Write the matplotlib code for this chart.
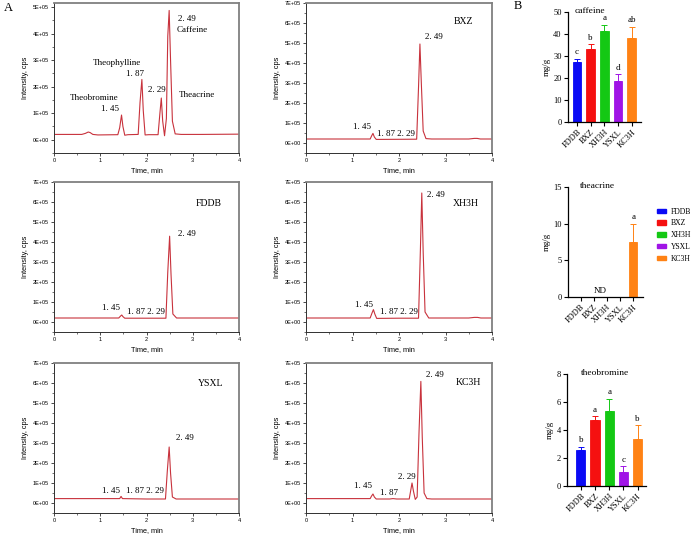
import numpy as np
import matplotlib
matplotlib.use("Agg")
import matplotlib.pyplot as plt
from matplotlib.patches import Patch
from matplotlib.ticker import FuncFormatter, MultipleLocator

SERIF = "Liberation Serif"
SANS = "Liberation Sans"
LINE_RED = "#C8323C"

# ---- chromatogram traces (time in min, intensity in 1e5 cps) ----
STD_T = [0.00, 0.30, 0.60, 0.68, 0.74, 0.78, 0.84, 0.95, 1.38, 1.42, 1.46, 1.49, 1.53, 1.60,
         1.82, 1.86, 1.90, 1.93, 1.97, 2.05, 2.25, 2.29, 2.32, 2.35, 2.39, 2.43, 2.46, 2.49,
         2.52, 2.56, 2.62, 2.75, 3.20, 4.00]
STD_Y = [0.20, 0.20, 0.20, 0.24, 0.29, 0.27, 0.20, 0.18, 0.19, 0.45, 0.93, 0.50, 0.17, 0.19,
         0.20, 1.40, 2.27, 1.10, 0.18, 0.19, 0.19, 1.00, 1.57, 0.70, 0.15, 0.80, 3.90, 4.87,
         3.00, 0.70, 0.22, 0.20, 0.20, 0.21]

BXZ_T = [0.0, 1.0, 1.38, 1.41, 1.44, 1.47, 1.51, 1.6, 2.38, 2.42, 2.45, 2.48, 2.52, 2.58,
         2.7, 3.5, 3.62, 3.68, 3.75, 4.0]
BXZ_Y = [0.2, 0.2, 0.2, 0.35, 0.48, 0.30, 0.18, 0.18, 0.19, 2.8, 4.95, 3.0, 0.6, 0.22,
         0.2, 0.2, 0.23, 0.23, 0.2, 0.2]

FDDB_T = [0.0, 1.0, 1.40, 1.44, 1.465, 1.49, 1.53, 2.0, 2.42, 2.46, 2.50, 2.53, 2.57, 2.65, 4.0]
FDDB_Y = [0.2, 0.2, 0.2, 0.3, 0.35, 0.27, 0.19, 0.19, 0.19, 2.5, 4.29, 2.4, 0.4, 0.2, 0.2]

XH3H_T = [0.0, 1.0, 1.38, 1.42, 1.45, 1.48, 1.52, 2.0, 2.42, 2.46, 2.49, 2.52, 2.56, 2.64,
          3.5, 3.62, 3.69, 3.76, 4.0]
XH3H_Y = [0.2, 0.2, 0.2, 0.45, 0.62, 0.40, 0.18, 0.19, 0.19, 3.6, 6.45, 3.5, 0.5, 0.2,
          0.2, 0.23, 0.23, 0.2, 0.2]

YSXL_T = [0.0, 1.0, 1.42, 1.45, 1.48, 2.0, 2.41, 2.45, 2.49, 2.52, 2.56, 2.64, 4.0]
YSXL_Y = [0.22, 0.22, 0.22, 0.33, 0.22, 0.2, 0.2, 1.6, 2.8, 1.5, 0.3, 0.2, 0.2]

KC3H_T = [0.0, 1.0, 1.38, 1.41, 1.44, 1.47, 1.51, 1.8, 1.87, 1.95, 2.22, 2.25, 2.28, 2.31,
          2.35, 2.39, 2.43, 2.47, 2.50, 2.54, 2.6, 2.7, 4.0]
KC3H_Y = [0.22, 0.22, 0.22, 0.35, 0.45, 0.3, 0.2, 0.2, 0.22, 0.2, 0.2, 0.6, 1.0, 0.6,
          0.18, 0.3, 3.5, 6.08, 3.3, 0.5, 0.22, 0.2, 0.2]

# peak labels: (text, time, intensity 1e5)
STD_LABELS = [("Theobromine", 0.86, 1.57), ("1. 45", 1.22, 1.15), ("Theophylline", 1.36, 2.89),
              ("1. 87", 1.76, 2.49), ("2. 29", 2.22, 1.88), ("2. 49", 2.88, 4.54),
              ("Caffeine", 2.99, 4.15), ("Theacrine", 3.09, 1.70)]
BXZ_LABELS = [("1. 45", 1.21, 0.82), ("1. 87 2. 29", 1.94, 0.47), ("2. 49", 2.76, 5.28)]
FDDB_LABELS = [("1. 45", 1.24, 0.72), ("1. 87 2. 29", 1.99, 0.50), ("2. 49", 2.87, 4.39)]
XH3H_LABELS = [("1. 45", 1.24, 0.85), ("1. 87 2. 29", 1.99, 0.50), ("2. 49", 2.79, 6.35)]
YSXL_LABELS = [("1. 45", 1.24, 0.62), ("1. 87 2. 29", 1.97, 0.58), ("2. 49", 2.82, 3.25)]
KC3H_LABELS = [("1. 45", 1.22, 0.87), ("1. 87", 1.79, 0.50), ("2. 29", 2.17, 1.32),
               ("2. 49", 2.77, 6.38)]
SAMPLE_TAGS = {"BXZ": (3.39, 6.07), "FDDB": (3.35, 5.91), "XH3H": (3.44, 5.91),
               "YSXL": (3.39, 5.97), "KC3H": (3.49, 6.01)}

# ---- panel B: contents (mg/g) ----
GROUPS = ["FDDB", "BXZ", "XH3H", "YSXL", "KC3H"]
COLORS = ["#0A0AF5", "#F51010", "#14C814", "#A014E6", "#FF8214"]
CAF_MEAN = [27.3, 33.2, 41.5, 18.4, 38.3]
CAF_ERR = [1.5, 2.2, 2.9, 3.2, 5.0]
CAF_LET = ["c", "b", "a", "d", "ab"]
THC_MEAN = [0, 0, 0, 0, 7.48]
THC_ERR = [0, 0, 0, 0, 2.5]
THC_LET = ["", "", "", "", "a"]
THB_MEAN = [2.58, 4.68, 5.35, 1.0, 3.34]
THB_ERR = [0.22, 0.29, 0.84, 0.38, 0.98]
THB_LET = ["b", "a", "a", "c", "b"]

W, H = 692, 536
fig = plt.figure(figsize=(W / 100, H / 100), dpi=100)


def px_axes(x0, y0, x1, y1):
    # pixel box (left, top, right, bottom) -> figure fraction
    return fig.add_axes([x0 / W, 1 - y1 / H, (x1 - x0) / W, (y1 - y0) / H])


def sci(v, pos):
    n = int(round(v / 1e5))
    return "0E+00" if n == 0 else f"{n}E+05"


def chrom(box, t, y, labels, ymax, tag=None):
    ax = px_axes(*box)
    ax.plot(t, np.array(y) * 1e5, color=LINE_RED, lw=0.8)
    ax.set_xlim(0, 4)
    ax.set_ylim(-0.5e5, ymax)
    ax.xaxis.set_major_locator(MultipleLocator(1))
    ax.xaxis.set_minor_locator(MultipleLocator(0.5))
    ax.yaxis.set_major_locator(MultipleLocator(1e5))
    ax.yaxis.set_minor_locator(MultipleLocator(0.5e5))
    ax.yaxis.set_major_formatter(FuncFormatter(sci))
    ax.tick_params(which="major", direction="out", length=2.5, width=0.5, labelsize=4, pad=1)
    ax.tick_params(which="minor", direction="out", length=1.3, width=0.4)
    for lab in ax.get_xticklabels() + ax.get_yticklabels():
        lab.set_fontfamily(SANS)
    for s in ("left", "bottom"):
        ax.spines[s].set_linewidth(0.7)
        ax.spines[s].set_color("#303030")
    for s in ("top", "right"):
        ax.spines[s].set_linewidth(1.3)
        ax.spines[s].set_color("#808080")
    ax.set_xlabel("Time, min", fontsize=5.3, family=SANS, labelpad=3)
    ax.set_ylabel("Intensity, cps", fontsize=5.3, family=SANS, labelpad=3)
    for txt, tx, ty in labels:
        ax.text(tx, ty * 1e5, txt, fontsize=6.5, family=SERIF, ha="center", va="center")
    if tag:
        tx, ty = SAMPLE_TAGS[tag]
        ax.text(tx, ty * 1e5, tag, fontsize=7, family=SERIF, ha="center", va="center")
    return ax


C1 = (54, 239)
C2 = (306, 492)
R1 = (3, 153)
R2 = (182, 332)
R3 = (363, 513)
chrom((C1[0], R1[0], C1[1], R1[1]), STD_T, STD_Y, STD_LABELS, 5.15e5)
chrom((C2[0], R1[0], C2[1], R1[1]), BXZ_T, BXZ_Y, BXZ_LABELS, 7e5, "BXZ")
chrom((C1[0], R2[0], C1[1], R2[1]), FDDB_T, FDDB_Y, FDDB_LABELS, 7e5, "FDDB")
chrom((C2[0], R2[0], C2[1], R2[1]), XH3H_T, XH3H_Y, XH3H_LABELS, 7e5, "XH3H")
chrom((C1[0], R3[0], C1[1], R3[1]), YSXL_T, YSXL_Y, YSXL_LABELS, 7e5, "YSXL")
chrom((C2[0], R3[0], C2[1], R3[1]), KC3H_T, KC3H_Y, KC3H_LABELS, 7e5, "KC3H")


def bars(box, mean, err, letters, ymax, step, xlim, title, title_xy):
    ax = px_axes(*box)
    x = np.arange(len(GROUPS))
    ax.bar(x, mean, width=0.65, color=COLORS, edgecolor=COLORS, linewidth=0.6)
    for i in range(len(x)):
        if err[i] > 0:
            ax.errorbar(x[i], mean[i], yerr=[[0], [err[i]]], fmt="none",
                        ecolor=COLORS[i], elinewidth=0.7, capsize=2.5, capthick=0.7)
        if letters[i]:
            ax.text(x[i], mean[i] + err[i] + ymax * 0.025, letters[i], fontsize=6.5,
                    family=SERIF, ha="center", va="bottom")
    ax.set_xlim(*xlim)
    ax.set_ylim(0, ymax)
    ax.set_yticks(np.arange(0, ymax + 0.01, step))
    ax.set_xticks(x)
    ax.set_xticklabels(GROUPS, rotation=45, ha="right", rotation_mode="anchor")
    ax.tick_params(direction="out", length=3, width=0.8, labelsize=6, pad=1.5)
    for lab in ax.get_xticklabels() + ax.get_yticklabels():
        lab.set_fontfamily(SERIF)
    ax.spines["top"].set_visible(False)
    ax.spines["right"].set_visible(False)
    for s in ("left", "bottom"):
        ax.spines[s].set_linewidth(0.9)
    ax.set_ylabel("mg/g", fontsize=6.5, family=SERIF, labelpad=2)
    ax.text(title_xy[0], title_xy[1], title, fontsize=6.8, family=SERIF,
            ha="center", va="center", clip_on=False)
    return ax


bars((568, 12.3, 641, 121.7), CAF_MEAN, CAF_ERR, CAF_LET, 50, 10, (-0.66, 4.68),
     "caffeine", (0.97, 50.5))
ax_t = bars((568, 187.3, 643, 297), THC_MEAN, THC_ERR, THC_LET, 15, 5, (-0.95, 4.75),
            "theacrine", (1.28, 15.2))
ax_t.text(1.5, 0.8, "ND", fontsize=6.5, family=SERIF, ha="center", va="center")
bars((567, 374, 646, 485.7), THB_MEAN, THB_ERR, THB_LET, 8, 2, (-0.98, 4.6),
     "theobromine", (1.7, 8.07))

handles = [Patch(facecolor=c, edgecolor=c) for c in COLORS]
leg = fig.legend(handles, GROUPS, loc="upper left", bbox_to_anchor=(657 / W, 1 - 207.5 / H),
                 frameon=False, fontsize=5.5, handlelength=1.2, handleheight=0.5,
                 handletextpad=0.6, labelspacing=0.5, borderpad=0, borderaxespad=0)
for t in leg.get_texts():
    t.set_fontfamily(SERIF)

fig.text(4 / W, 1 - 8 / H, "A", fontsize=9, family=SERIF, ha="left", va="center")
fig.text(514 / W, 1 - 6 / H, "B", fontsize=9, family=SERIF, ha="left", va="center")

fig.savefig("out.png", dpi=100)
